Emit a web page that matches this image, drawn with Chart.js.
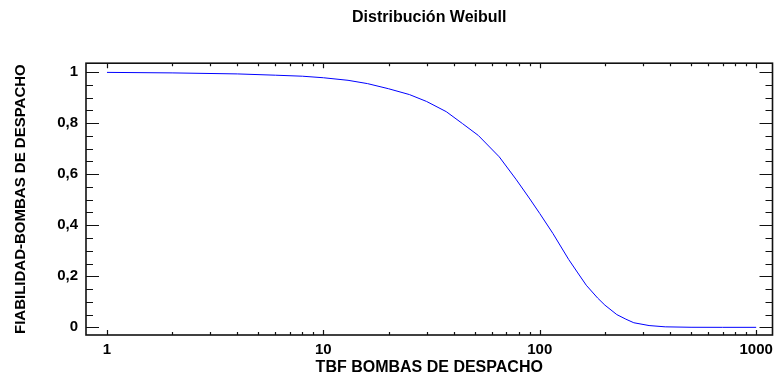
<!DOCTYPE html>
<html>
<head>
<meta charset="utf-8">
<script src="https://cdn.jsdelivr.net/npm/chart.js@4/dist/chart.umd.min.js"></script>
<style>
    html, body { margin: 0; padding: 0; background: #fff; }
</style>
</head>
<body>
<canvas id="myChart" width="779" height="379"></canvas>
<script>
// TBF (hours) vs reliability
const tbfValues = [1, 2, 4, 6, 8, 10, 13, 16, 20, 25, 30, 37, 44, 52, 65, 78, 90, 100,
    115, 136, 150, 164, 185, 200, 227, 250, 272, 320, 380, 500, 700, 1000];
const reliabilityValues = [0.999, 0.997, 0.993, 0.988, 0.984, 0.978, 0.968, 0.955, 0.935, 0.912,
    0.885, 0.845, 0.798, 0.752, 0.668, 0.578, 0.503, 0.446,
    0.368, 0.266, 0.213, 0.165, 0.115, 0.087, 0.05, 0.032, 0.018, 0.007, 0.002, 0.0003, 0, 0];

const xMajorTicks = [1, 10, 100, 1000];
const yMajorTicks = [0, 0.2, 0.4, 0.6, 0.8, 1];

const chartTitle = 'Distribución Weibull';
const xTitle = 'TBF BOMBAS DE DESPACHO';
const yTitle = 'FIABILIDAD-BOMBAS DE DESPACHO';

const FONT = "'Liberation Sans', Arial, Helvetica, sans-serif";

// minor ticks: 2..9 inside each decade, every 0.05 on y
const xMinorTicks = [];
xMajorTicks.slice(0, -1).forEach(d => {
    for (let m = 2; m <= 9; m++) xMinorTicks.push(d * m);
});
const yMinorTicks = [];
for (let i = 1; i < 20; i++) {
    if (i % 4 !== 0) yMinorTicks.push(i * 0.05);
}

// box round the plot with inward tick marks on all four sides
const frameTicks = {
    id: 'frameTicks',
    afterDatasetsDraw(chart) {
        const {ctx, chartArea: a, scales} = chart;
        const x = scales.x, y = scales.y;
        ctx.save();
        ctx.strokeStyle = '#111';
        ctx.lineWidth = 1.2;
        ctx.beginPath();
        const xTick = (v, len) => {
            const px = Math.round(x.getPixelForValue(v)) + 0.5;
            ctx.moveTo(px, a.bottom); ctx.lineTo(px, a.bottom - len);
            ctx.moveTo(px, a.top); ctx.lineTo(px, a.top + len);
        };
        const yTick = (v, len) => {
            const py = Math.round(y.getPixelForValue(v)) + 0.5;
            ctx.moveTo(a.left, py); ctx.lineTo(a.left + len, py);
            ctx.moveTo(a.right, py); ctx.lineTo(a.right - len, py);
        };
        xMajorTicks.forEach(v => xTick(v, 5));
        xMinorTicks.forEach(v => xTick(v, 3));
        yMajorTicks.forEach(v => yTick(v, 13));
        yMinorTicks.forEach(v => yTick(v, 7));
        ctx.stroke();
        ctx.lineWidth = 1.6;
        ctx.strokeRect(a.left, a.top, a.right - a.left, a.bottom - a.top);
        ctx.restore();
    }
};

const ctx = document.getElementById('myChart').getContext('2d');
const myChart = new Chart(ctx, {
    type: 'line',
    data: {
        datasets: [{
            data: tbfValues.map((t, i) => ({x: t, y: reliabilityValues[i]})),
            borderColor: '#0000ff',
            borderWidth: 1,
            pointRadius: 0,
            tension: 0,
            fill: false
        }]
    },
    options: {
        responsive: false,
        animation: false,
        layout: {padding: {right: 4}},
        plugins: {
            legend: {display: false},
            tooltip: {enabled: false},
            title: {
                display: true,
                text: chartTitle,
                fullSize: false,
                color: '#000',
                font: {family: FONT, size: 16, weight: 'bold'},
                padding: {top: 8, bottom: 36}
            }
        },
        scales: {
            x: {
                type: 'logarithmic',
                min: 0.8,
                max: 1190,
                grid: {display: false, drawTicks: false},
                border: {display: false},
                afterBuildTicks: scale => {
                    scale.ticks = xMajorTicks.map(v => ({value: v}));
                },
                afterFit: scale => { scale.height = 44; },
                ticks: {
                    autoSkip: false,
                    maxRotation: 0,
                    padding: 6,
                    color: '#000',
                    font: {family: FONT, size: 15, weight: 'bold'},
                    callback: v => String(v)
                },
                title: {
                    display: true,
                    text: xTitle,
                    color: '#000',
                    font: {family: FONT, size: 16, weight: 'bold'},
                    padding: {top: 0, bottom: 2}
                }
            },
            y: {
                min: -0.03,
                max: 1.035,
                grid: {display: false, drawTicks: false},
                border: {display: false},
                afterBuildTicks: scale => {
                    scale.ticks = yMajorTicks.map(v => ({value: v}));
                },
                afterFit: scale => { scale.width = 86; },
                ticks: {
                    padding: 8,
                    color: '#000',
                    font: {family: FONT, size: 15, weight: 'bold'},
                    callback: v => String(Math.round(v * 10) / 10).replace('.', ',')
                },
                title: {
                    display: true,
                    text: yTitle,
                    color: '#000',
                    font: {family: FONT, size: 15, weight: 'bold'},
                    padding: {top: 12, bottom: 0}
                }
            }
        }
    },
    plugins: [frameTicks]
});
</script>
</body>
</html>
